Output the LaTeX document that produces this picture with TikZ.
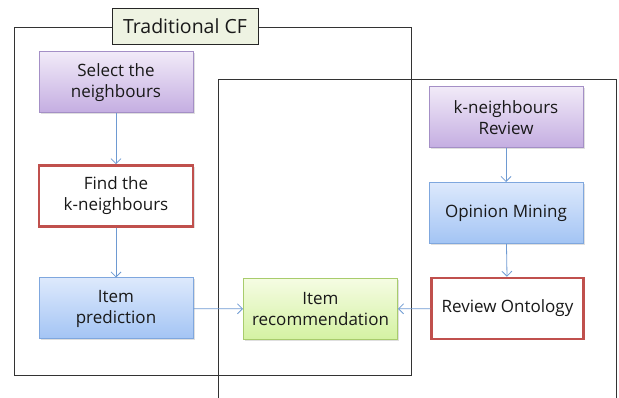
\documentclass[tikz,border=0pt]{standalone}
\usepackage{fontspec}
\setmainfont{Open Sans}
\usetikzlibrary{arrows.meta, shadows}

\definecolor{purpleline}{HTML}{A48FC6}
\definecolor{purpletop}{HTML}{F1EAF8}
\definecolor{purplebot}{HTML}{C4ADE1}
\definecolor{blueline}{HTML}{7FA7DE}
\definecolor{bluetop}{HTML}{DDE9FC}
\definecolor{bluebot}{HTML}{A3C4F4}
\definecolor{greenline}{HTML}{A8CC6C}
\definecolor{greentop}{HTML}{F5FCE3}
\definecolor{greenbot}{HTML}{D4F2A2}
\definecolor{redline}{HTML}{C0504D}
\definecolor{titlefill}{HTML}{EEF3E2}
\definecolor{flowline}{HTML}{6E9AD2}

\begin{document}
\begin{tikzpicture}[x=1pt, y=-1pt,
  box/.style={minimum width=154pt, minimum height=61pt, align=center,
    font=\fontsize{17}{21}\selectfont, text=black!90, inner sep=2pt,
    drop shadow={shadow xshift=1.5pt, shadow yshift=-1.5pt, opacity=0.25}},
  purplebox/.style={box, draw=purpleline, line width=1pt, top color=purpletop, bottom color=purplebot},
  bluebox/.style={box, draw=blueline, line width=1pt, top color=bluetop, bottom color=bluebot},
  greenbox/.style={box, draw=greenline, line width=1pt, top color=greentop, bottom color=greenbot},
  redbox/.style={box, draw=redline, line width=2.5pt, fill=white},
  flow/.style={draw=flowline, line width=0.8pt, -{Straight Barb[length=5pt, width=10pt]}}]
\useasboundingbox (0,0) rectangle (619,398);

% frames
\draw[black!80, line width=0.8pt] (14,27) rectangle (411,375);
\draw[black!80, line width=0.8pt] (218,398) -- (218,79) -- (616,79) -- (616,398);
\node[draw=black!85, line width=0.8pt, fill=titlefill, minimum width=146pt, minimum height=36pt,
  text=black!90, font=\fontsize{19.5}{22}\selectfont] (title) at (185,26) {Traditional CF};

% traditional CF steps
\node[purplebox] (select) at (116,82.5) {Select the\\neighbours};
\node[redbox] (find) at (116,196) {Find the\\k-neighbours};
\node[bluebox] (predict) at (116,308.5) {Item\\prediction};

% review steps
\node[purplebox] (review) at (506,117.5) {k-neighbours\\Review};
\node[bluebox] (mining) at (506,213) {Opinion Mining};
\node[redbox, minimum width=152pt] (ontology) at (507.5,308.5) {Review Ontology};

\node[greenbox] (recommend) at (320.5,309) {Item\\recommendation};

% connectors
\draw[flow] (select) -- (find);
\draw[flow] (find) -- (predict);
\draw[flow] (predict) -- (recommend);
\draw[flow] (review) -- (mining);
\draw[flow] (mining) -- (ontology);
\draw[flow] (ontology) -- (recommend);
\end{tikzpicture}
\end{document}
